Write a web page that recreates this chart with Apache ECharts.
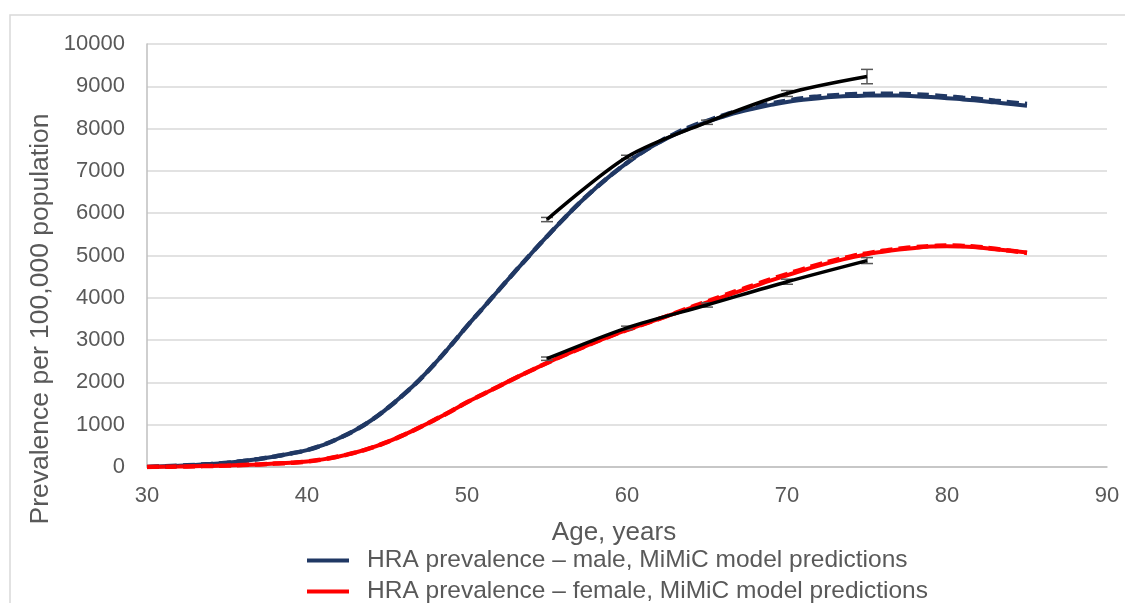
<!DOCTYPE html>
<html>
<head>
<meta charset="utf-8">
<script src="https://cdn.jsdelivr.net/npm/echarts@6/dist/echarts.min.js"></script>
<style>
html,body{margin:0;padding:0;background:#fff;}
#chart{width:1125px;height:603px;}
</style>
</head>
<body>
<div id="chart"></div>
<script>
const ages = [30,31,32,33,34,35,36,37,38,39,40,41,42,43,44,45,46,47,48,49,50,51,52,53,54,55,56,57,58,59,60,61,62,63,64,65,66,67,68,69,70,71,72,73,74,75,76,77,78,79,80,81,82,83,84,85];
const maleModel = [0,15,30,50,70,100,140,190,250,320,400,520,680,870,1100,1380,1700,2050,2450,2880,3330,3760,4190,4620,5040,5450,5850,6230,6580,6900,7190,7450,7670,7860,8020,8160,8280,8390,8480,8560,8630,8680,8720,8750,8770,8780,8785,8780,8765,8745,8720,8690,8660,8620,8580,8540];
const maleModelAlt = [0,15,30,50,70,100,140,190,250,320,400,520,680,870,1100,1380,1700,2050,2450,2880,3330,3760,4190,4620,5040,5450,5850,6230,6580,6900,7190,7450,7680,7880,8050,8180,8310,8420,8510,8590,8660,8720,8760,8790,8810,8820,8825,8820,8810,8790,8760,8730,8700,8660,8620,8580];
const femaleModel = [0,5,10,18,25,35,48,62,80,100,130,180,250,340,450,590,750,930,1120,1320,1530,1720,1910,2100,2280,2460,2630,2790,2950,3100,3240,3370,3500,3630,3760,3890,4020,4150,4280,4410,4530,4650,4760,4860,4950,5030,5090,5140,5180,5210,5220,5210,5190,5150,5110,5070];
const femaleModelAlt = [0,5,10,18,25,35,48,62,80,100,130,180,250,340,450,590,750,930,1120,1320,1530,1720,1910,2100,2280,2460,2630,2790,2950,3100,3240,3370,3500,3640,3780,3910,4050,4180,4310,4440,4560,4680,4790,4890,4980,5050,5110,5160,5200,5220,5235,5225,5200,5160,5110,5060];
const obsAges = [55,60,65,70,75];
const maleObs = [5850,7330,8150,8830,9230];
const maleErr = [50,40,50,70,170];
const femaleObs = [2560,3290,3830,4380,4880];
const femaleErr = [40,40,50,60,70];
const xTicks = [30,40,50,60,70,80,90];
const yTicks = [0,1000,2000,3000,4000,5000,6000,7000,8000,9000,10000];
const legendNames = ['HRA prevalence \u2013 male, MiMiC model predictions','HRA prevalence \u2013 female, MiMiC model predictions'];
const xTitle = 'Age, years';
const yTitle = 'Prevalence per 100,000 population';

const pairs = (xs, ys) => xs.map((x,i)=>[x, ys[i]]);
const errData = (xs, ys, es) => xs.map((x,i)=>[x, ys[i]-es[i], ys[i]+es[i]]);
const textColor = '#595959';
const font = 'Liberation Sans, Arial, sans-serif';

function errRender(params, api) {
  const x = api.value(0);
  const lo = api.coord([x, api.value(1)]);
  const hi = api.coord([x, api.value(2)]);
  const hw = 6;
  const st = {stroke:'#595959', lineWidth:1.5};
  return {type:'group', children:[
    {type:'line', shape:{x1:lo[0],y1:lo[1],x2:hi[0],y2:hi[1]}, style:st},
    {type:'line', shape:{x1:lo[0]-hw,y1:lo[1],x2:lo[0]+hw,y2:lo[1]}, style:st},
    {type:'line', shape:{x1:hi[0]-hw,y1:hi[1],x2:hi[0]+hw,y2:hi[1]}, style:st}
  ]};
}

const legendBase = {
  orient:'horizontal', itemWidth:42, itemHeight:14, itemGap:10,
  icon:'path://M0,5 L42,5 L42,9 L0,9 Z',
  textStyle:{color:textColor, fontSize:24.5, fontFamily:font, padding:[0,0,0,13]}
};

const chart = echarts.init(document.getElementById('chart'), null, {renderer:'canvas'});
chart.setOption({
  backgroundColor:'#fff',
  animation:false,
  textStyle:{fontFamily:font},
  graphic:[
    {type:'rect', shape:{x:10,y:15,width:1200,height:700}, style:{fill:'none', stroke:'#d9d9d9', lineWidth:1.5}, z:-1},
    {type:'text', x:41, y:319, rotation:Math.PI/2, style:{text:yTitle, fill:textColor, fontSize:26.5, fontFamily:font, align:'center', verticalAlign:'middle'}}
  ],
  grid:{left:147, right:18, top:44, bottom:136, containLabel:false},
  legend:[
    Object.assign({}, legendBase, {data:[legendNames[0]], left:302, top:543}),
    Object.assign({}, legendBase, {data:[legendNames[1]], left:302, top:574})
  ],
  xAxis:{
    type:'value', min:30, max:90, interval:10,
    name:xTitle, nameLocation:'middle', nameGap:53,
    nameTextStyle:{color:textColor, fontSize:26, fontFamily:font, padding:[0,26,0,0]},
    axisLine:{show:true, lineStyle:{color:'#bfbfbf', width:1.5}},
    axisTick:{show:false},
    splitLine:{show:false},
    axisLabel:{color:textColor, fontSize:22, margin:18, fontFamily:font}
  },
  yAxis:{
    type:'value', min:0, max:10000, interval:1000,
    axisLine:{show:true, lineStyle:{color:'#bfbfbf', width:1.5}},
    axisTick:{show:false},
    splitLine:{show:true, lineStyle:{color:'#d9d9d9', width:1.5}},
    axisLabel:{color:textColor, fontSize:22, margin:22, fontFamily:font, formatter:(v)=>String(v)}
  },
  series:[
    {name:legendNames[0], type:'line', data:pairs(ages, maleModel), smooth:true, showSymbol:false,
     lineStyle:{color:'#203864', width:4}, itemStyle:{color:'#203864'}, z:2},
    {name:legendNames[1], type:'line', data:pairs(ages, femaleModel), smooth:true, showSymbol:false,
     lineStyle:{color:'#ff0000', width:4}, itemStyle:{color:'#ff0000'}, z:2},
    {name:'male alt', type:'line', data:pairs(ages, maleModelAlt), smooth:true, showSymbol:false,
     lineStyle:{color:'#203864', width:4.5, type:[12,6]}, z:3},
    {name:'female alt', type:'line', data:pairs(ages, femaleModelAlt), smooth:true, showSymbol:false,
     lineStyle:{color:'#ff0000', width:4.5, type:[12,6]}, z:3},
    {name:'male obs', type:'line', data:pairs(obsAges, maleObs), smooth:0.3, showSymbol:false,
     lineStyle:{color:'#000', width:3.5}, z:5},
    {name:'female obs', type:'line', data:pairs(obsAges, femaleObs), smooth:0.3, showSymbol:false,
     lineStyle:{color:'#000', width:3.5}, z:5},
    {name:'male err', type:'custom', renderItem:errRender, data:errData(obsAges, maleObs, maleErr), z:4},
    {name:'female err', type:'custom', renderItem:errRender, data:errData(obsAges, femaleObs, femaleErr), z:4}
  ]
});
</script>
</body>
</html>
